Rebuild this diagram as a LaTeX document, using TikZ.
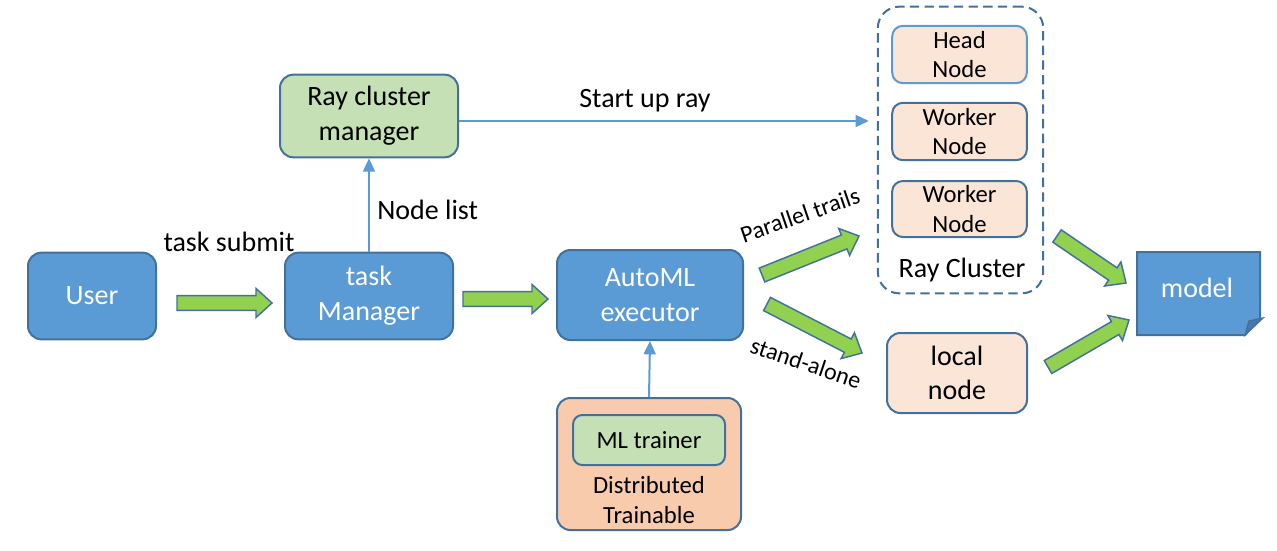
\documentclass[tikz,border=0pt]{standalone}
\usepackage{fontspec}
\setmainfont{Carlito}
\usetikzlibrary{calc,arrows.meta}
\definecolor{bfill}{HTML}{5B9BD5}
\definecolor{bdr}{HTML}{41719C}
\definecolor{gfill}{HTML}{C5E0B4}
\definecolor{ofill}{HTML}{FBE5D6}
\definecolor{dfill}{HTML}{F8CBAD}
\definecolor{arrgreen}{HTML}{92D050}
\definecolor{lblue}{HTML}{5B9BD5}
\newcommand\garrow[2]{%
  \path ($(#2)!12pt!(#1)$) coordinate (gh);
  \draw[blockarr] ($(#1)!5.6pt!90:(#2)$) -- ($(gh)!5.6pt!90:(#2)$) -- ($(gh)!10.9pt!90:(#2)$) -- (#2) -- ($(gh)!10.9pt!-90:(#2)$) -- ($(gh)!5.6pt!-90:(#2)$) -- ($(#1)!5.6pt!-90:(#2)$) -- cycle;}
\begin{document}
\begin{tikzpicture}[x=0.75pt,y=-0.75pt,
  base/.style={rounded corners=10pt, line width=1.5pt, draw=bdr, align=center, inner sep=0pt, font=\fontsize{21}{26}\selectfont},
  bluebox/.style={base, fill=bfill, text=white},
  greenbox/.style={base, fill=gfill},
  peachbox/.style={base, fill=ofill},
  smallbox/.style={peachbox, font=\fontsize{18.5}{22}\selectfont},
  lbl/.style={font=\fontsize{21}{26}\selectfont, inner sep=0pt},
  slbl/.style={font=\fontsize{18}{22}\selectfont, inner sep=0pt},
  bline/.style={draw=lblue, line width=1.5pt, -{Triangle[length=10pt,width=9pt]}},
  blockarr/.style={draw=bdr, fill=arrgreen, line width=1.1pt, line join=miter}
]
\useasboundingbox (0,0) rectangle (1277,550);

% nodes
\node[bluebox, minimum width=96pt, minimum height=65pt] (user) at (92,296) {User};
\node[bluebox, minimum width=126pt, minimum height=65pt] (tm) at (369,296) {task\\Manager};
\node[greenbox, minimum width=133.5pt, minimum height=62pt] (rcm) at (369,116) {Ray cluster\\manager};
\node[bluebox, minimum width=139.5pt, minimum height=67.5pt] (auto) at (650,295) {AutoML\\executor};
\node[base, fill=dfill, minimum width=138pt, minimum height=99pt] (dt) at (649,464) {};
\node[greenbox, font=\fontsize{18.5}{22}\selectfont, rounded corners=7pt, minimum width=114pt, minimum height=37.5pt] (mlt) at (649,440) {ML trainer};
\node[align=center, inner sep=0pt, font=\fontsize{18.5}{22.5}\selectfont] (dttext) at (649,500) {Distributed\\Trainable};

\node[draw=bdr, line width=1.5pt, dash pattern=on 7pt off 4pt, rounded corners=16pt, minimum width=124pt, minimum height=215pt] (rc) at (960.5,150) {};
\node[smallbox, draw=lblue, rounded corners=8pt, minimum width=101pt, minimum height=43pt] (head) at (959.5,54.5) {Head\\Node};
\node[smallbox, rounded corners=8pt, minimum width=101pt, minimum height=43pt] (w1) at (959.5,131.5) {Worker\\Node};
\node[smallbox, rounded corners=8pt, minimum width=101pt, minimum height=42pt] (w2) at (959.5,209) {Worker\\Node};
\node[lbl] (rctext) at (962,270) {Ray Cluster};
\node[peachbox, minimum width=105pt, minimum height=60pt] (local) at (957,373) {local\\node};

% model (document shape)
\draw[draw=bdr, fill=bfill, line width=1.5pt, line join=miter] (1137,252) -- (1260,252) -- (1260,318) -- (1245,335) -- (1137,335) -- cycle;
\draw[draw=bdr, fill=bdr!80!bfill, line width=1pt, line join=miter] (1245,335) -- (1249,321) -- (1263,318) -- cycle;
\node[lbl, text=white] (model) at (1197,288) {model};

% blue connectors
\draw[bline] (tm.north) -- (rcm.south);
\coordinate (su) at ([yshift=-3.75pt]rcm.east);
\draw[bline, shorten >=6pt] (su) -- (su -| rc.west);
\draw[bline] (dt.north) -- (auto.south);

% green block arrows
\coordinate (g1a) at (177,303); \coordinate (g1b) at (272,303);
\coordinate (g2a) at (463,299); \coordinate (g2b) at (548,299);
\coordinate (g3a) at (762,275); \coordinate (g3b) at (859,236);
\coordinate (g4a) at (767,304); \coordinate (g4b) at (862,353);
\coordinate (g5a) at (1057,236); \coordinate (g5b) at (1126,283);
\coordinate (g6a) at (1048,367); \coordinate (g6b) at (1129,320);
\garrow{g1a}{g1b}
\garrow{g2a}{g2b}
\garrow{g3a}{g3b}
\garrow{g4a}{g4b}
\garrow{g5a}{g5b}
\garrow{g6a}{g6b}

% labels
\node[lbl] (ts) at (229,242) {task submit};
\node[lbl, anchor=west] (nl) at (377,210) {Node list};
\node[lbl] (sur) at (645,101) {Start up ray};
\node[slbl, rotate=19] (pt) at (800,215) {Parallel trails};
\node[slbl, rotate=-18.5] (sa) at (806,363) {stand-alone};
\end{tikzpicture}
\end{document}
